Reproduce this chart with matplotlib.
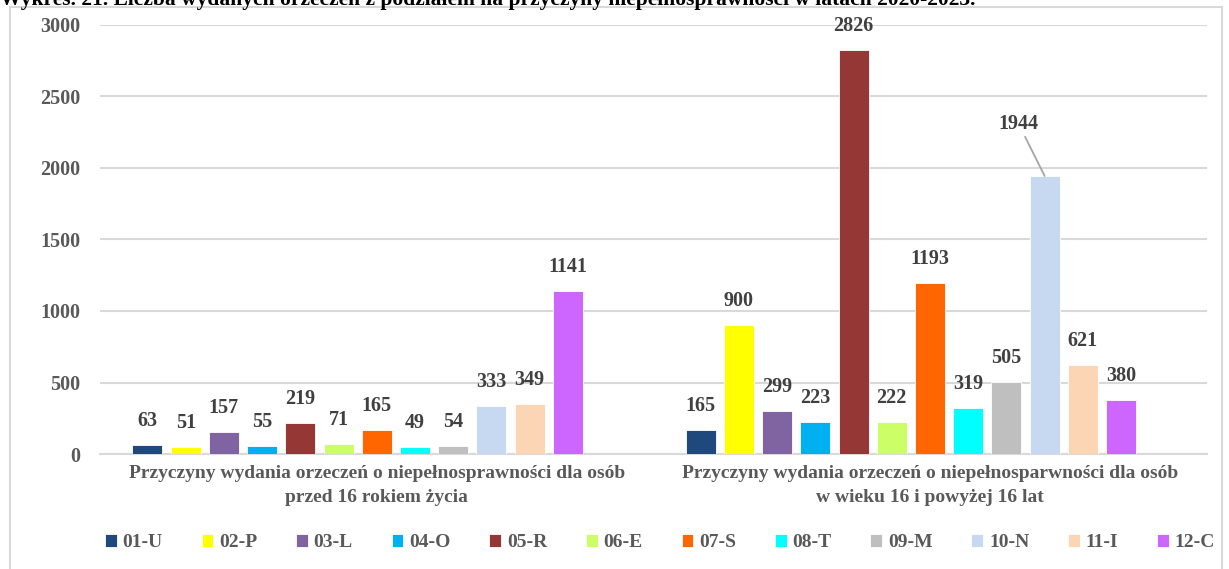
import numpy as np
import matplotlib.pyplot as plt
from matplotlib.patches import Rectangle

plt.rcParams['font.family'] = ['Liberation Serif', 'DejaVu Serif']
plt.rcParams['font.weight'] = 'bold'

kody = ['01-U', '02-P', '03-L', '04-O', '05-R', '06-E', '07-S', '08-T', '09-M', '10-N', '11-I', '12-C']
kolory = ['#1F497D', '#FFFF00', '#8064A2', '#00B0F0', '#953735', '#CCFF66',
          '#FF6600', '#00FFFF', '#BFBFBF', '#C6D9F1', '#FCD5B5', '#CC66FF']
grupy = ['Przyczyny wydania orzeczeń o niepełnosprawności dla osób\nprzed 16 rokiem życia',
         'Przyczyny wydania orzeczeń o niepełnosparwności dla osób\nw wieku 16 i powyżej 16 lat']
przed16 = [63, 51, 157, 55, 219, 71, 165, 49, 54, 333, 349, 1141]
od16 = [165, 900, 299, 223, 2826, 222, 1193, 319, 505, 1944, 621, 380]

fig = plt.figure(figsize=(12.29, 5.69), dpi=100)
ax = fig.add_axes([0.0815, 0.2021, 0.9003, 0.7540])

slot = 38.2 / 553
szer = 30 / 553
x = np.arange(len(grupy))
wartosci = np.array([przed16, od16])

for i, kod in enumerate(kody):
    pos = x + (i - 6) * slot
    bars = ax.bar(pos, wartosci[:, i], szer, color=kolory[i], label=kod,
                  edgecolor='white', linewidth=0.6, zorder=3)
    for b, v in zip(bars, wartosci[:, i]):
        if v == 1944:
            ax.annotate(str(v), xy=(b.get_x() + b.get_width() / 2, v),
                        xytext=(-26, 42), textcoords='offset pixels',
                        ha='center', va='bottom', fontsize=14.5, color='#404040',
                        arrowprops=dict(arrowstyle='-', color='#A6A6A6', lw=1.3,
                                        shrinkA=0, shrinkB=0))
        else:
            ax.annotate(str(v), xy=(b.get_x() + b.get_width() / 2, v),
                        xytext=(0, 14), textcoords='offset pixels',
                        ha='center', va='bottom', fontsize=14.5, color='#404040',
                        annotation_clip=False)

ax.set_xlim(-0.5, 1.5)
ax.set_ylim(0, 3000)
ax.set_yticks(range(0, 3001, 500))
ax.set_xticks(x)
ax.set_xticklabels(grupy, fontsize=14, color='#595959', linespacing=1.55)
ax.tick_params(axis='both', length=0)
ax.tick_params(axis='y', labelsize=14.5, labelcolor='#595959', pad=14)
ax.tick_params(axis='x', pad=8)
ax.grid(axis='y', color='#D9D9D9', linewidth=1.5, zorder=0)
for s in ['top', 'right', 'left']:
    ax.spines[s].set_visible(False)
ax.spines['bottom'].set_color('#D9D9D9')
ax.spines['bottom'].set_linewidth(1.5)

leg = fig.legend(loc='center', bbox_to_anchor=(0.537, 0.046), ncol=12, frameon=False,
                 fontsize=14, handlelength=0.6, handleheight=0.6, handletextpad=0.3,
                 columnspacing=2.0)
for t in leg.get_texts():
    t.set_color('#595959')

fig.patches.append(Rectangle((10 / 1229, -0.05), 1212 / 1229, 1.05 - 7 / 569,
                             transform=fig.transFigure, fill=False,
                             edgecolor='#D9D9D9', linewidth=1.5))
fig.text(0.0, 1 - 5 / 569,
         'Wykres. 21. Liczba wydanych orzeczeń z podziałem na przyczyny niepełnosprawności w latach 2020-2023.',
         ha='left', va='baseline', fontsize=15.5, color='black')

fig.savefig('out.png', dpi=100)
